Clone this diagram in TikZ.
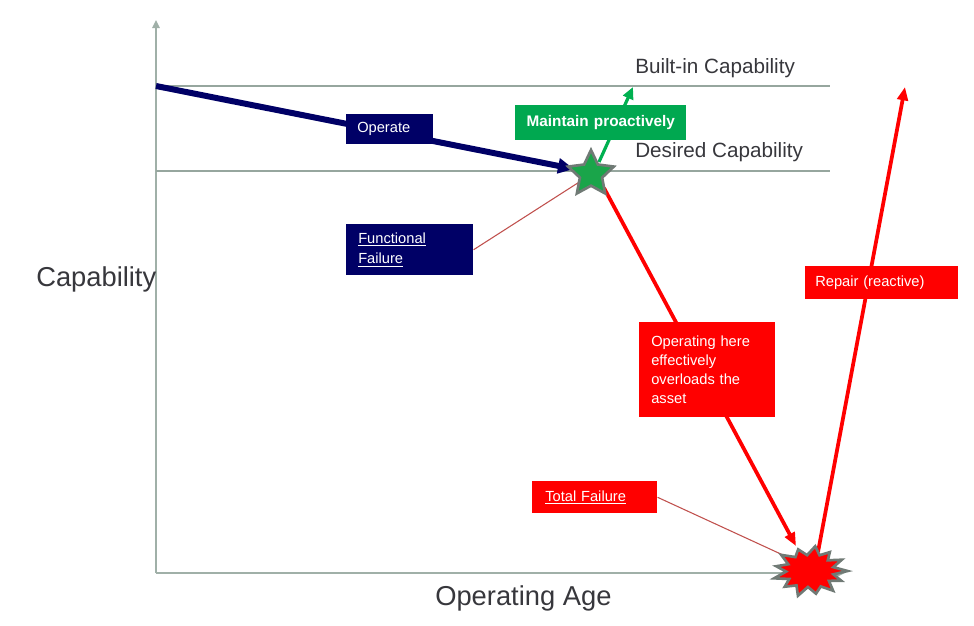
\documentclass[tikz,border=0pt]{standalone}
\usepackage{fontspec}
\setmainfont{Liberation Sans}
\usetikzlibrary{arrows.meta,shapes.geometric}
\definecolor{axisgray}{RGB}{160,176,168}
\definecolor{levelgray}{RGB}{150,166,158}
\definecolor{navyc}{RGB}{0,0,102}
\definecolor{greenbox}{RGB}{0,168,80}
\definecolor{greenarr}{RGB}{0,176,80}
\definecolor{starfill}{RGB}{26,165,74}
\definecolor{edgegray}{RGB}{112,122,117}
\definecolor{redc}{RGB}{255,0,0}
\definecolor{thinred}{RGB}{192,80,77}
\definecolor{labelgray}{RGB}{55,55,60}
\begin{document}
\begin{tikzpicture}[x=0.75pt,y=-0.75pt,
  axis/.style={draw=axisgray,line width=1.5pt,-{Triangle[length=6pt,width=5.5pt]}},
  level/.style={draw=levelgray,line width=1.1pt},
  leader/.style={draw=thinred,line width=0.8pt},
  bx/.style={anchor=north west,inner ysep=0pt,text=white,
    font=\fontsize{11}{14.4}\selectfont,align=left},
  lbl/.style={anchor=base west,inner sep=0pt,text=labelgray,font=\fontsize{15.5}{18}\selectfont},
  biglbl/.style={anchor=base west,inner sep=0pt,text=labelgray,font=\fontsize{20.5}{24}\selectfont}]
\useasboundingbox (0,0) rectangle (974,625);

% coordinates
\coordinate (origin) at (156,573);
\coordinate (ytop) at (156,20);
\coordinate (xend) at (845,573);
\coordinate (bl) at (156,86);
\coordinate (br) at (830,86);
\coordinate (dl) at (156,171);
\coordinate (dr) at (830,171);
\coordinate (opstart) at (156,86);
\coordinate (opend) at (574,169);
\coordinate (gstart) at (599,162);
\coordinate (gend) at (633,87);
\coordinate (rdstart) at (604,188);
\coordinate (rdend) at (796,546);
\coordinate (rustart) at (818,552);
\coordinate (ruend) at (905,87);
\coordinate (ffstar) at (584,179);
\coordinate (tfburst) at (796,561);
\coordinate (burst) at (810,571);

% axes and levels
\draw[axis] (origin) -- (ytop);
\draw[axis] (origin) -- (xend);
\draw[level] (bl) -- (br);
\draw[level] (dl) -- (dr);

% arrows
\draw[navyc,line width=4.5pt,-{Triangle[length=12pt,width=11pt]}] (opstart) -- (opend);
\draw[greenarr,line width=2.4pt,-{Triangle[length=9pt,width=8pt]}] (gstart) -- (gend);
\draw[redc,line width=2.8pt,-{Triangle[length=10pt,width=8pt]}] (rdstart) -- (rdend);
\draw[redc,line width=2.8pt,-{Triangle[length=10pt,width=8pt]}] (rustart) -- (ruend);

% boxes
\node[bx,fill=navyc,minimum width=95.25pt,minimum height=38.25pt,text width=77.25pt,inner xsep=9pt] (ff) at (346,224) {\underline{Functional}\\[1pt]\underline{Failure}};
\node[bx,fill=redc,minimum width=93.75pt,minimum height=24pt,text width=74.25pt,inner xsep=9.75pt] (tf) at (532,481) {\underline{Total Failure}};
\node[bx,fill=navyc,minimum width=65.25pt,minimum height=22.5pt,text width=48.75pt,inner xsep=8.25pt] (op) at (346,114) {Operate};
\node[bx,fill=greenbox,minimum width=128.25pt,minimum height=26.25pt,text width=120.25pt,inner xsep=4pt,align=center,font=\fontsize{11.5}{14}\selectfont\bfseries] (mp) at (515,105) {Maintain proactively};
\node[bx,fill=redc,minimum width=102pt,minimum height=71.25pt,text width=84pt,inner xsep=9pt] (oh) at (639,322) {Operating here\\effectively\\overloads the\\asset};
\node[bx,fill=redc,minimum width=114.75pt,minimum height=24.75pt,text width=99.75pt,inner xsep=7.5pt] (rp) at (805,266) {Repair (reactive)};

% leaders
\draw[leader] (ff.east) -- (ffstar);
\draw[leader] (tf.east) -- (tfburst);

% star
\node[star,star points=5,star point ratio=2.05,minimum size=36pt,inner sep=0pt,
  fill=starfill,draw=edgegray,line width=2pt] (star) at (591,174) {};

% burst
\draw[fill=redc,draw=edgegray,line width=2pt,line join=miter,shift={(burst)},xscale=1.5]
  (0:25) -- (12:16) -- (25:23) -- (38:16) -- (52:25) -- (65:17) -- (80:23) -- (95:16)
  -- (108:26) -- (122:17) -- (137:23) -- (150:16) -- (163:25) -- (178:16) -- (192:23)
  -- (205:16) -- (220:25) -- (235:17) -- (250:23) -- (263:16) -- (278:25) -- (292:17)
  -- (305:23) -- (318:16) -- (332:24) -- (346:16) -- cycle;

% labels
\node[lbl] (bic) at (635,73) {Built-in Capability};
\node[lbl] (dc) at (635,157) {Desired Capability};
\node[biglbl] (cap) at (36,286) {Capability};
\node[biglbl] (age) at (435,605) {Operating Age};
\end{tikzpicture}
\end{document}
